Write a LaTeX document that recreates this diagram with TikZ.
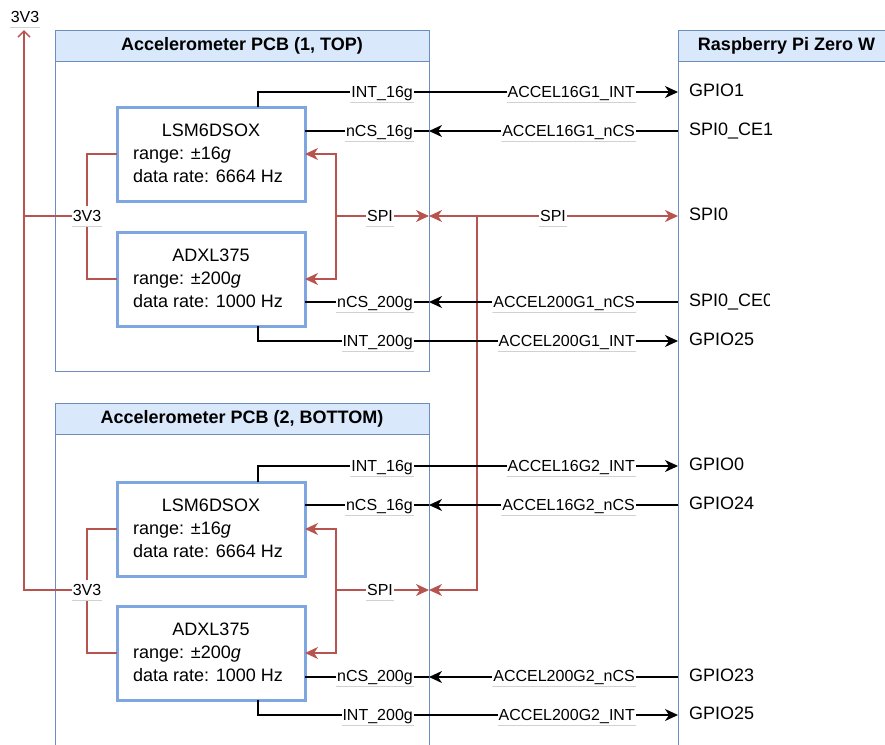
\documentclass[tikz,border=0pt]{standalone}
\usepackage{fontspec}
\setmainfont{Liberation Sans}
\usetikzlibrary{arrows.meta,calc}
\definecolor{hdrfill}{HTML}{DAE8FC}
\definecolor{hdrline}{HTML}{6C8EBF}
\definecolor{chipline}{HTML}{7EA6E0}
\definecolor{redline}{HTML}{B85450}
\begin{document}
\begin{tikzpicture}[x=1pt,y=-1pt,
  container/.style={draw=hdrline, line width=1pt, outer sep=0pt, anchor=north west, inner sep=0pt},
  header/.style={draw=hdrline, fill=hdrfill, line width=1pt, outer sep=0pt, anchor=north west, minimum height=31pt, inner sep=0pt, font=\fontsize{18}{20}\selectfont\bfseries},
  chip/.style={draw=chipline, fill=white, line width=3pt, outer sep=0pt, minimum width=188pt, minimum height=94pt, inner sep=0pt},
  ctext/.style={inner sep=0pt, font=\fontsize{18}{22}\selectfont, text height=13pt, text depth=4pt},
  pin/.style={inner sep=0pt, anchor=west, font=\fontsize{18}{22}\selectfont, text height=13pt, text depth=4pt},
  lbl/.style={fill=white, inner xsep=1pt, inner ysep=2pt, text height=13pt, text depth=3pt,
     font=\fontsize{16}{18}\selectfont,
     path picture={\draw[black!18, line width=1pt] (path picture bounding box.south west) -- (path picture bounding box.south east);}},
  sig/.style={draw=black, line width=1.1pt},
  sigtip/.style={-{Stealth[length=13pt,width=12pt,inset=4pt]}},
  pwr/.style={draw=redline, line width=1.5pt},
  pwrtip/.style={-{Stealth[length=13pt,width=12pt,inset=4pt]}},
  pwrtips/.style={{Stealth[length=13pt,width=12pt,inset=4pt]}-{Stealth[length=13pt,width=12pt,inset=4pt]}},
]
\useasboundingbox (0,0) rectangle (885,744);
\clip (0,0) rectangle (885,744);

% containers
\node[container, minimum width=374pt, minimum height=341pt] (pcb1) at (55,30) {};
\node[header, minimum width=374pt] (pcb1h) at (55,30) {Accelerometer PCB (1, TOP)};
\node[container, minimum width=374pt, minimum height=360pt] (pcb2) at (55,403) {};
\node[header, minimum width=374pt] (pcb2h) at (55,403) {Accelerometer PCB (2, BOTTOM)};
\node[container, minimum width=217pt, minimum height=740pt] (rpi) at (678,30) {};
\node[header, minimum width=217pt] (rpih) at (678,30) {Raspberry Pi Zero W};

% chips
\node[chip] (lsm1) at (211,154) {};
\node[chip] (adxl1) at (211,279) {};
\node[chip] (lsm2) at (211,529) {};
\node[chip] (adxl2) at (211,653) {};

% chip texts
\node[ctext] (lsm1t) at ($(lsm1.center)+(0,-22)$) {LSM6DSOX};
\node[ctext, anchor=west] (lsm1r) at ($(lsm1.west)+(16,1)$) {range: ±16\textit{g}};
\node[ctext, anchor=west] (lsm1d) at ($(lsm1.west)+(16,24)$) {data rate: 6664 Hz};
\node[ctext] (adxl1t) at ($(adxl1.center)+(0,-22)$) {ADXL375};
\node[ctext, anchor=west] (adxl1r) at ($(adxl1.west)+(16,1)$) {range: ±200\textit{g}};
\node[ctext, anchor=west] (adxl1d) at ($(adxl1.west)+(16,24)$) {data rate: 1000 Hz};
\node[ctext] (lsm2t) at ($(lsm2.center)+(0,-22)$) {LSM6DSOX};
\node[ctext, anchor=west] (lsm2r) at ($(lsm2.west)+(16,1)$) {range: ±16\textit{g}};
\node[ctext, anchor=west] (lsm2d) at ($(lsm2.west)+(16,24)$) {data rate: 6664 Hz};
\node[ctext] (adxl2t) at ($(adxl2.center)+(0,-22)$) {ADXL375};
\node[ctext, anchor=west] (adxl2r) at ($(adxl2.west)+(16,1)$) {range: ±200\textit{g}};
\node[ctext, anchor=west] (adxl2d) at ($(adxl2.west)+(16,24)$) {data rate: 1000 Hz};

% Raspberry Pi pins
\node[pin] (gpio1) at (689,92) {GPIO1};
\node[pin] (ce1) at (689,131) {SPI0\_CE1};
\node[pin] (spi0) at (689,216) {SPI0};
\begin{scope}
  \clip (680,285) rectangle (769,320);
  \node[pin] (ce0) at (689,302) {SPI0\_CE0};
\end{scope}
\node[pin] (gpio25a) at (689,341) {GPIO25};
\node[pin] (gpio0) at (689,466) {GPIO0};
\node[pin] (gpio24) at (689,505) {GPIO24};
\node[pin] (gpio23) at (689,677) {GPIO23};
\node[pin] (gpio25b) at (689,715) {GPIO25};

% junction coordinates
\coordinate (vj1) at (87,216);
\coordinate (vj2) at (87,590);
\coordinate (vtop) at (24,30);
\coordinate (sj1) at (336,216);
\coordinate (sj2) at (336,590);
\coordinate (sj0) at (477,216);

% 3V3 power
\draw[pwr] (lsm1.west) -| (vj1) |- (adxl1.west);
\draw[pwr] (lsm2.west) -| (vj2) |- (adxl2.west);
\draw[pwr] (vj1) -- (vtop |- vj1);
\draw[pwr, -{Straight Barb[length=6pt,width=12pt]}] (vj2) -| (vtop);

% SPI
\draw[pwr, pwrtips] (lsm1.east) -| (sj1) |- (adxl1.east);
\draw[pwr, pwrtip] (sj1) -- (pcb1.east |- sj1);
\draw[pwr, pwrtips] (pcb1.east |- spi0) -- (rpi.west |- spi0);
\draw[pwr, pwrtips] (lsm2.east) -| (sj2) |- (adxl2.east);
\draw[pwr, pwrtip] (sj2) -- (pcb2.east |- sj2);
\draw[pwr, pwrtip] (sj0) |- (pcb2.east |- sj2);

% PCB1 signals
\draw[sig, sigtip] ($(lsm1.north)+(47,0)$) |- (rpi.west |- gpio1);
\draw[sig, sigtip] (rpi.west |- ce1) -- (pcb1.east |- ce1);
\draw[sig] (pcb1.east |- ce1) -- (lsm1.east |- ce1);
\draw[sig, sigtip] (rpi.west |- ce0) -- (pcb1.east |- ce0);
\draw[sig] (pcb1.east |- ce0) -- (adxl1.east |- ce0);
\draw[sig, sigtip] ($(adxl1.south)+(47,0)$) |- (rpi.west |- gpio25a);

% PCB2 signals
\draw[sig, sigtip] ($(lsm2.north)+(47,0)$) |- (rpi.west |- gpio0);
\draw[sig, sigtip] (rpi.west |- gpio24) -- (pcb2.east |- gpio24);
\draw[sig] (pcb2.east |- gpio24) -- (lsm2.east |- gpio24);
\draw[sig, sigtip] (rpi.west |- gpio23) -- (pcb2.east |- gpio23);
\draw[sig] (pcb2.east |- gpio23) -- (adxl2.east |- gpio23);
\draw[sig, sigtip] ($(adxl2.south)+(47,0)$) |- (rpi.west |- gpio25b);

% labels
\node[lbl] (l3v3top) at (25,17) {3V3};
\node[lbl] (l3v3a) at (vj1) {3V3};
\node[lbl] (l3v3b) at (vj2) {3V3};
\node[lbl] (lspi1) at (380,216) {SPI};
\node[lbl] (lspi2) at (380,590) {SPI};
\node[lbl] (lspi0) at (553,216) {SPI};

\node[lbl, anchor=east] (li16a) at (414,92) {INT\_16g};
\node[lbl, anchor=east] (lc16a) at (414,131) {nCS\_16g};
\node[lbl, anchor=east] (lc200a) at (414,302) {nCS\_200g};
\node[lbl, anchor=east] (li200a) at (414,341) {INT\_200g};
\node[lbl, anchor=east] (li16b) at (414,466) {INT\_16g};
\node[lbl, anchor=east] (lc16b) at (414,505) {nCS\_16g};
\node[lbl, anchor=east] (lc200b) at (414,676) {nCS\_200g};
\node[lbl, anchor=east] (li200b) at (414,715) {INT\_200g};

\node[lbl, anchor=east] (la1) at (636,92) {ACCEL16G1\_INT};
\node[lbl, anchor=east] (la2) at (636,131) {ACCEL16G1\_nCS};
\node[lbl, anchor=east] (la3) at (636,302) {ACCEL200G1\_nCS};
\node[lbl, anchor=east] (la4) at (636,341) {ACCEL200G1\_INT};
\node[lbl, anchor=east] (la5) at (636,466) {ACCEL16G2\_INT};
\node[lbl, anchor=east] (la6) at (636,505) {ACCEL16G2\_nCS};
\node[lbl, anchor=east] (la7) at (636,676) {ACCEL200G2\_nCS};
\node[lbl, anchor=east] (la8) at (636,715) {ACCEL200G2\_INT};
\end{tikzpicture}
\end{document}
